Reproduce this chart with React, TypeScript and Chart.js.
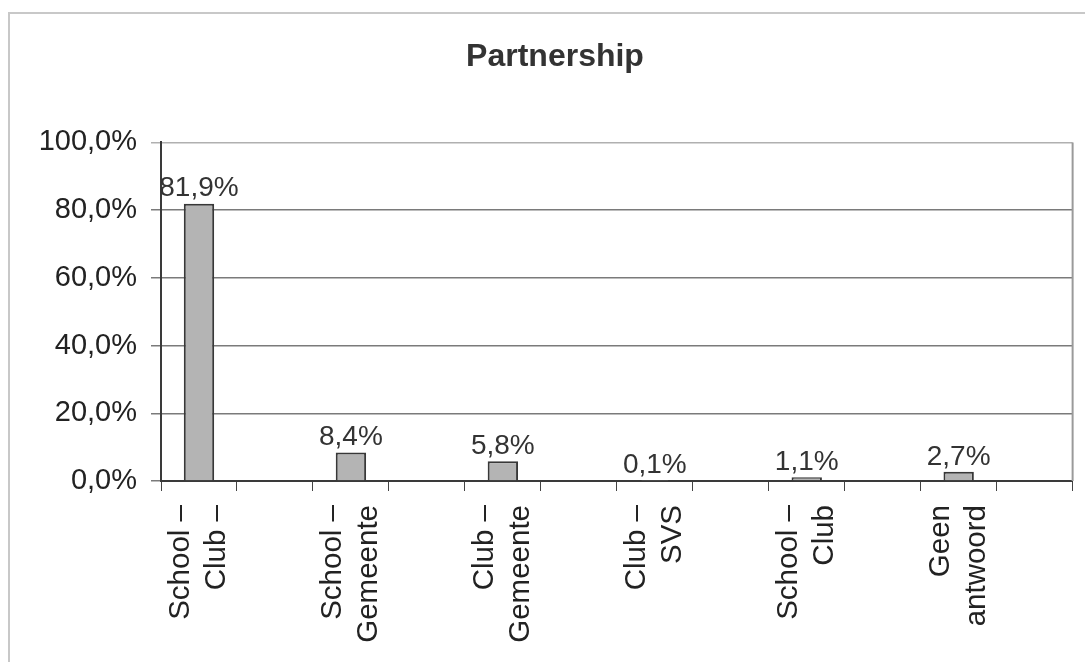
import React, { useEffect, useRef } from "react";
import { Chart, registerables } from "chart.js";

Chart.register(...registerables);

const TITLE = "Partnership";
const CATEGORY_LINES: string[][] = [
  ["School –", "Club –"],
  ["School –", "Gemeente"],
  ["Club –", "Gemeente"],
  ["Club –", "SVS"],
  ["School –", "Club"],
  ["Geen", "antwoord"],
];
const VALUES: number[] = [81.9, 8.4, 5.8, 0.1, 1.1, 2.7];
const Y_TICKS: number[] = [0, 20, 40, 60, 80, 100];

const FONT = '"Liberation Sans", Arial, sans-serif';
const fmt = (v: number) => v.toFixed(1).replace(".", ",") + "%";

// Each category is followed by an empty slot (the original axis has ticks at half intervals)
const labels: (string[] | string)[] = [];
const data: (number | null)[] = [];
CATEGORY_LINES.forEach((c, i) => {
  labels.push(c);
  labels.push("");
  data.push(VALUES[i]);
  data.push(null);
});

const valueLabels = {
  id: "valueLabels",
  afterDatasetsDraw(chart: any) {
    const ctx = chart.ctx;
    const meta = chart.getDatasetMeta(0);
    ctx.save();
    ctx.font = `28px ${FONT}`;
    ctx.fillStyle = "#333";
    ctx.textAlign = "center";
    ctx.textBaseline = "bottom";
    meta.data.forEach((el: any, i: number) => {
      const v = data[i];
      if (v === null || v === undefined) return;
      ctx.fillText(fmt(v), el.x, el.y - 1);
    });
    ctx.restore();
  },
};

const plotBorder = {
  id: "plotBorder",
  beforeDatasetsDraw(chart: any) {
    const { ctx, chartArea } = chart;
    ctx.save();
    ctx.strokeStyle = "#9a9a9a";
    ctx.lineWidth = 2;
    ctx.beginPath();
    ctx.moveTo(chartArea.right, chartArea.top);
    ctx.lineTo(chartArea.right, chartArea.bottom);
    ctx.stroke();
    ctx.restore();
  },
};

export default function App() {
  const ref = useRef<HTMLCanvasElement>(null);
  useEffect(() => {
    if (!ref.current) return;
    const chart = new Chart(ref.current, {
      type: "bar",
      data: {
        labels,
        datasets: [
          {
            data,
            backgroundColor: "#b4b4b4",
            borderColor: "#383838",
            borderWidth: 2,
            barPercentage: 0.4,
            categoryPercentage: 1,
          },
        ],
      },
      options: {
        responsive: false,
        animation: false,
        layout: { padding: { left: 34, right: 9, top: 0, bottom: 0 } },
        plugins: {
          legend: { display: false },
          tooltip: { enabled: false },
          title: {
            display: true,
            text: TITLE,
            color: "#333",
            font: { family: FONT, size: 32, weight: "bold", lineHeight: 1.2 },
            padding: { top: 38, bottom: 66 },
          },
        },
        scales: {
          x: {
            grid: {
              display: true,
              drawOnChartArea: false,
              drawTicks: true,
              tickLength: 10,
              color: "#444",
              offset: true,
            },
            border: { display: true, color: "#3a3a3a", width: 2 },
            ticks: {
              autoSkip: false,
              minRotation: 90,
              maxRotation: 90,
              padding: 14,
              labelOffset: -18,
              color: "#222",
              font: { family: FONT, size: 29.5, lineHeight: 1.22 },
            },
            afterFit(scale: any) {
              scale.height = 181;
            },
          },
          y: {
            min: 0,
            max: 100,
            afterBuildTicks(scale: any) {
              scale.ticks = Y_TICKS.map((v) => ({ value: v }));
            },
            grid: {
              color: (c: any) => (c.tick && c.tick.value === 100 ? "#b0b0b0" : "#7a7a7a"),
              lineWidth: 1.5,
              tickLength: 10,
            },
            border: { display: true, color: "#3a3a3a", width: 2 },
            ticks: {
              padding: 14,
              color: "#222",
              font: { family: FONT, size: 29 },
              callback: (v: any) => fmt(Number(v)),
            },
            afterFit(scale: any) {
              scale.width = 127;
            },
          },
        },
      },
      plugins: [valueLabels, plotBorder],
    });
    return () => chart.destroy();
  }, []);

  return (
    <div style={{ position: "fixed", left: 0, top: 0, width: 1085, height: 662, background: "#fff", overflow: "hidden" }}>
      <div
        style={{
          position: "absolute",
          left: 8,
          top: 12,
          width: 1100,
          height: 700,
          borderTop: "2px solid #c8c8c8",
          borderLeft: "2px solid #c8c8c8",
        }}
      />
      <canvas ref={ref} width={1085} height={662} style={{ position: "absolute", left: 0, top: 0 }} />
    </div>
  );
}
